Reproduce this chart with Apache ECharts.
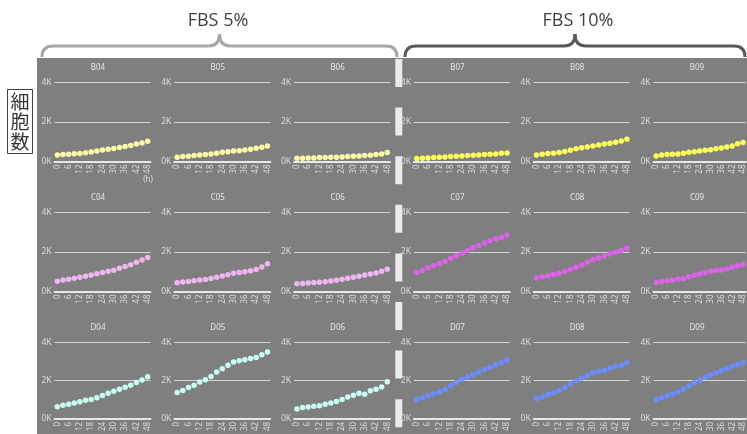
<!DOCTYPE html>
<html>
<head>
<meta charset="utf-8">
<title>細胞数</title>
<script src="https://cdn.jsdelivr.net/npm/echarts@6/dist/echarts.min.js"></script>
<style>
html, body { margin: 0; padding: 0; background: #fff; }
#myChart { width: 747px; height: 434px; }
</style>
</head>
<body>
<div id="myChart"></div>
<script>
// 培養時間 (h) 3時間ごと
var hours = ["0","3","6","9","12","15","18","21","24","27","30","33","36","39","42","45","48"];
var wellRows = [
    ["B04","B05","B06","B07","B08","B09"],
    ["C04","C05","C06","C07","C08","C09"],
    ["D04","D05","D06","D07","D08","D09"]
];
var groupNames = ["FBS 5%", "FBS 10%"];
var yTicks = [0, 2000, 4000];

// 細胞数
var B04 = [330,350,370,390,410,440,480,530,580,620,660,710,760,810,880,940,1030];
var B05 = [217,250,267,300,333,350,383,417,467,500,533,550,583,617,667,717,783];
var B06 = [167,167,183,183,200,200,217,217,233,250,267,283,300,317,350,383,450];
var B07 = [150,167,183,200,217,233,250,267,283,300,317,333,350,367,383,417,433];
var B08 = [333,367,400,420,460,510,570,640,690,740,790,830,880,930,970,1040,1130];
var B09 = [283,333,350,367,383,417,467,500,533,567,600,650,683,733,783,900,967];
var C04 = [520,580,620,670,720,770,840,900,960,1030,1080,1180,1260,1360,1480,1600,1720];
var C05 = [440,480,510,540,580,610,660,720,790,850,920,960,1000,1050,1110,1240,1400];
var C06 = [390,410,430,450,470,500,530,570,620,670,720,770,830,880,940,1020,1130];
var C07 = [960,1060,1200,1300,1400,1520,1680,1810,1950,2070,2220,2330,2460,2570,2670,2750,2860];
var C08 = [680,750,800,860,920,1010,1110,1230,1330,1490,1610,1690,1800,1900,1980,2070,2190];
var C09 = [450,510,550,580,630,650,750,820,890,960,1010,1060,1090,1130,1230,1300,1370];
var D04 = [640,710,760,830,900,970,1020,1100,1220,1340,1450,1550,1660,1760,1900,2030,2200];
var D05 = [1380,1480,1640,1760,1930,2050,2220,2450,2620,2810,2980,3050,3100,3160,3220,3360,3500];
var D06 = [520,590,620,660,690,760,830,910,1020,1140,1240,1340,1290,1470,1550,1670,1950];
var D07 = [1020,1110,1210,1310,1410,1530,1730,1900,2070,2210,2330,2450,2580,2700,2840,2940,3090];
var D08 = [1070,1160,1280,1380,1480,1650,1820,1990,2140,2260,2430,2500,2530,2670,2740,2810,2940];
var D09 = [1000,1110,1210,1290,1390,1550,1720,1890,2040,2180,2300,2400,2520,2640,2750,2840,2940];

var wellData = {
    B04:B04, B05:B05, B06:B06, B07:B07, B08:B08, B09:B09,
    C04:C04, C05:C05, C06:C06, C07:C07, C08:C08, C09:C09,
    D04:D04, D05:D05, D06:D06, D07:D07, D08:D08, D09:D09
};
// 行ごとの色 [FBS 5%, FBS 10%]
var dotColors = [
    ["#fffaa8", "#ffff5c"],
    ["#efb6f2", "#dd62ea"],
    ["#c8fff4", "#6a8cff"]
];

var labelColor = "#dcdcdc";

function yLabel(v) {
    return (v / 1000) + "K";
}

// 中括弧 (線と曲線で組み立て)
function brace(x0, x1, color) {
    var mid = (x0 + x1) / 2;
    var st = {stroke:color, lineWidth:3};
    return [
        {type:"bezierCurve", shape:{x1:x0, y1:57, x2:x0 + 11, y2:46, cpx1:x0, cpy1:46}, style:st},
        {type:"line", shape:{x1:x0 + 11, y1:46, x2:mid - 11, y2:46}, style:st},
        {type:"bezierCurve", shape:{x1:mid - 11, y1:46, x2:mid, y2:34, cpx1:mid, cpy1:46}, style:st},
        {type:"bezierCurve", shape:{x1:mid, y1:34, x2:mid + 11, y2:46, cpx1:mid, cpy1:46}, style:st},
        {type:"line", shape:{x1:mid + 11, y1:46, x2:x1 - 11, y2:46}, style:st},
        {type:"bezierCurve", shape:{x1:x1 - 11, y1:46, x2:x1, y2:57, cpx1:x1, cpy1:46}, style:st}
    ];
}

function buildOption() {
    var grids = [], xAxes = [], yAxes = [], series = [], graphics = [];

    // 背景
    graphics.push({type:"rect", z:-10, shape:{x:37, y:58, width:710, height:376}, style:{fill:"#7f7f7f"}});

    for (var r = 0; r < wellRows.length; r++) {
        for (var c = 0; c < wellRows[r].length; c++) {
            var idx = grids.length;
            var well = wellRows[r][c];
            var gLeft = 54.5 + 119.8 * c;
            var gTop = 82.5 + 130 * r;
            grids.push({left:gLeft, top:gTop, width:96, height:79});
            xAxes.push({
                type:"category", gridIndex:idx, data:hours, boundaryGap:true,
                axisTick:{show:false},
                axisLine:{lineStyle:{color:"#e8e8e8", width:2}},
                axisLabel:{interval:1, rotate:90, margin:3, fontSize:8, color:labelColor, fontFamily:"Noto Sans"}
            });
            yAxes.push({
                type:"value", gridIndex:idx, min:yTicks[0], max:yTicks[yTicks.length - 1], interval:yTicks[1] - yTicks[0],
                axisLine:{show:false}, axisTick:{show:false},
                splitLine:{lineStyle:{color:"#d6d6d6", width:1}},
                axisLabel:{margin:3, fontSize:8.5, color:labelColor, fontFamily:"Noto Sans", formatter:yLabel}
            });
            var vals = wellData[well];
            var pts = [];
            for (var i = 0; i < vals.length; i++) pts.push([i, vals[i]]);
            series.push({
                type:"scatter", name:well, xAxisIndex:idx, yAxisIndex:idx,
                symbolSize:5.5, data:pts,
                itemStyle:{color:dotColors[r][c < 3 ? 0 : 1], opacity:1}
            });
            graphics.push({type:"text", x:98 + 119.8 * c, y:gTop - 14.5,
                style:{text:well, fill:"#e6e6e6", font:"8px 'Noto Sans'", align:"center", verticalAlign:"middle"}});
        }
    }

    graphics.push({type:"text", x:148, y:180,
        style:{text:"(h)", fill:labelColor, font:"8px 'Noto Sans'", align:"center", verticalAlign:"middle"}});

    // 区切り線
    graphics.push({type:"line", shape:{x1:398.8, y1:59, x2:398.8, y2:434},
        style:{stroke:"#ebebeb", lineWidth:7, lineDash:[28, 20.6]}});

    graphics = graphics.concat(brace(42, 397, "#a6a6a6"), brace(405, 745, "#595959"));
    graphics.push({type:"text", x:218, y:21,
        style:{text:groupNames[0], fill:"#404040", font:"18px 'Open Sans'", align:"center", verticalAlign:"middle"}});
    graphics.push({type:"text", x:578, y:21,
        style:{text:groupNames[1], fill:"#404040", font:"18px 'Open Sans'", align:"center", verticalAlign:"middle"}});

    // 縦軸ラベル
    graphics.push({type:"rect", shape:{x:7.5, y:89.5, width:25, height:64}, style:{fill:"#fff", stroke:"#404040", lineWidth:1}});
    graphics.push({type:"text", x:20, y:122,
        style:{text:"細\n胞\n数", fill:"#333", font:"19px 'Noto Sans CJK JP'", lineHeight:20, align:"center", verticalAlign:"middle"}});

    return {
        animation:false,
        grid:grids,
        xAxis:xAxes,
        yAxis:yAxes,
        series:series,
        graphic:{elements:graphics}
    };
}

var chart = echarts.init(document.getElementById("myChart"));
chart.setOption(buildOption());
</script>
</body>
</html>
